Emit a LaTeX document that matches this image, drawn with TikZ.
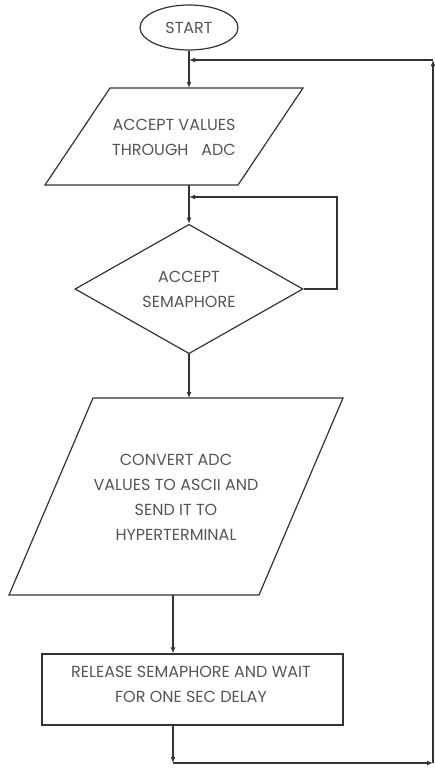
\documentclass[tikz,border=0pt]{standalone}
\usepackage{fontspec}
\setmainfont{Poppins}
\usepackage{xcolor}
\usepackage{tikz}
\usetikzlibrary{calc, shapes.geometric, positioning, arrows.meta}

\definecolor{linegray}{HTML}{333333}
\definecolor{textgray}{HTML}{555555}

\begin{document}
\begin{tikzpicture}[x=1pt, y=-1pt, >={Latex[length=6pt,width=5pt]},
    line width=1.2pt, color=linegray,
    flowtext/.style={font=\fontsize{16}{25}\selectfont, text=textgray, align=center},
    flowline/.style={->, linegray, line width=1.2pt}]
    \useasboundingbox (0,0) rectangle (435,774);

    % 1. Start and the first input box
    \node[draw, ellipse, flowtext, minimum width=98pt, minimum height=45pt, inner sep=0pt] (start) at (189,27.5) {START};
    \coordinate (j1) at (189,60);
    \coordinate (p1top) at (189,88);
    \draw (110,88) -- (303,88) -- (238,185) -- (45,185) -- cycle;
    \node[flowtext] (accept) at (174,137) {ACCEPT VALUES\\THROUGH\ \ \ ADC};
    \coordinate (p1bot) at (189,185);
    \draw[flowline] (start.south) -- (p1top);

    % 2. Semaphore test with its wait loop
    \coordinate (j2) at (189,197);
    \node[draw, diamond, flowtext, minimum width=228pt, minimum height=128pt, inner sep=0pt] (sema) at (189,289) {ACCEPT\\SEMAPHORE};
    \coordinate (loopr) at (337,289);
    \coordinate (loopt) at (337,197);
    \draw[flowline] (p1bot) -- (sema.north);
    \draw[flowline] (sema.east) -- (loopr) -- (loopt) -- (j2);

    % 3. Conversion and output box
    \coordinate (p2top) at (189,398);
    \draw (93,398) -- (343,398) -- (259,595) -- (9,595) -- cycle;
    \node[flowtext] (convert) at (176,497) {CONVERT ADC\\VALUES TO ASCII AND\\SEND IT TO\\HYPERTERMINAL};
    \coordinate (p2bot) at (173,595);
    \draw[flowline] (sema.south) -- (p2top);

    % 4. Release step and the way back to the top
    \node[draw, rectangle, minimum width=301pt, minimum height=71pt] (release) at (192.5,689.5) {};
    \node[flowtext] (releasetxt) at (191,684.5) {RELEASE SEMAPHORE AND WAIT\\FOR ONE SEC DELAY};
    \coordinate (bot) at (173,763);
    \coordinate (br) at (433,763);
    \coordinate (tr) at (433,60);
    \draw[flowline] (p2bot) -- (p2bot |- release.north);
    \draw[flowline] (p2bot |- release.south) -- (bot);
    \draw[flowline] (bot) -- (br);
    \draw[flowline] (br) -- (tr);
    \draw[flowline] (tr) -- (j1);
\end{tikzpicture}
\end{document}
